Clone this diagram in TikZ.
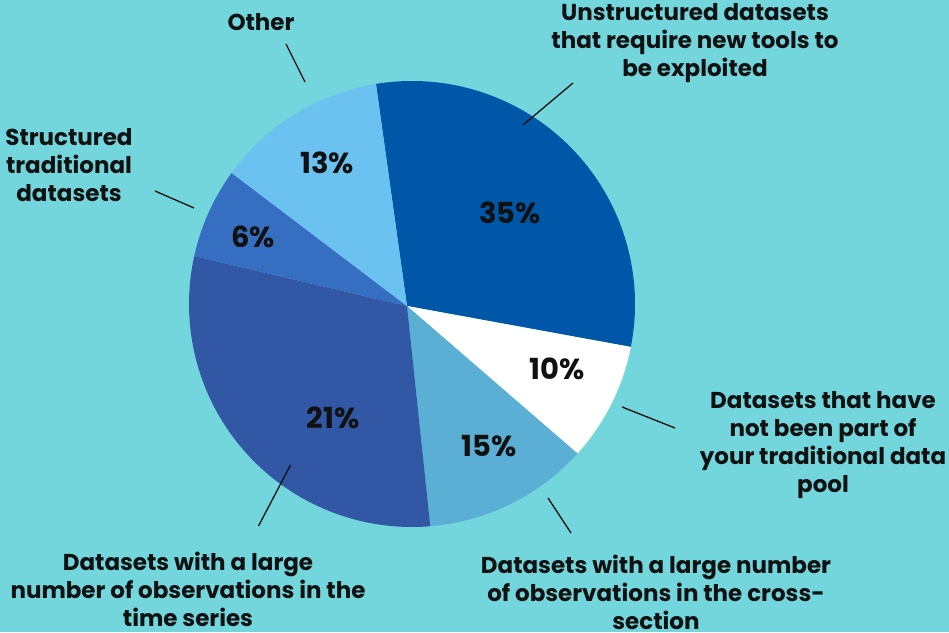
\documentclass[tikz,border=0pt]{standalone}
\usepackage{fontspec}
\setmainfont{Poppins}
\usetikzlibrary{calc}
\definecolor{bg}{RGB}{114,214,220}
\definecolor{cA}{RGB}{0,87,168}
\definecolor{cB}{RGB}{255,255,255}
\definecolor{cC}{RGB}{91,175,212}
\definecolor{cD}{RGB}{50,87,164}
\definecolor{cE}{RGB}{54,111,193}
\definecolor{cF}{RGB}{107,194,240}
\definecolor{ink}{RGB}{17,17,17}
\tikzset{
  lbl/.style={anchor=base, align=center, inner sep=0pt, text=ink,
    font=\fontsize{23}{28}\selectfont\bfseries},
  pct/.style={anchor=center, inner sep=0pt, text=ink,
    font=\fontsize{29}{34}\selectfont\bfseries},
  leader/.style={draw=ink, line width=1.3pt},
}
\begin{document}
\begin{tikzpicture}[x=1pt,y=1pt]
\useasboundingbox (0,0) rectangle (949,632);
\fill[bg] (0,0) rectangle (949,632);
\coordinate (O) at (412,328);
\coordinate (P) at (407,326);
\def\R{223pt}
\fill[cA] (P) -- ($(O)+(99.3:\R)$) arc[start angle=99.3, end angle=-11.1, radius=\R] -- cycle;
\fill[cB] (P) -- ($(O)+(-11.1:\R)$) arc[start angle=-11.1, end angle=-42.1, radius=\R] -- cycle;
\fill[cC] (P) -- ($(O)+(-42.1:\R)$) arc[start angle=-42.1, end angle=-85.3, radius=\R] -- cycle;
\fill[cD] (P) -- ($(O)+(-85.3:\R)$) arc[start angle=-85.3, end angle=-192.4, radius=\R] -- cycle;
\fill[cE] (P) -- ($(O)+(167.6:\R)$) arc[start angle=167.6, end angle=144.0, radius=\R] -- cycle;
\fill[cF] (P) -- ($(O)+(144.0:\R)$) arc[start angle=144.0, end angle=99.3, radius=\R] -- cycle;

% percentages
\node[pct] (p35) at (510,419) {35\%};
\node[pct] (p10) at (557,263) {10\%};
\node[pct] (p15) at (489,186) {15\%};
\node[pct] (p21) at (333,214) {21\%};
\node[pct] (p6)  at (253,395) {6\%};
\node[pct] (p13) at (327,469) {13\%};

% labels (anchor=base sits on the last line)
\node[lbl] (lunstr) at (695,555) {Unstructured datasets\\that require new tools to\\be exploited};
\node[lbl] (lother) at (261,601.5) {Other};
\node[lbl] (lstruct) at (69,430) {Structured\\traditional\\datasets};
\node[lbl] (lnew) at (823,140) {Datasets that have\\not been part of\\your traditional data\\pool};
\node[lbl] (ltime) at (188,6) {Datasets with a large\\number of observations in the\\time series};
\node[lbl] (lcross) at (656,3) {Datasets with a large number\\of observations in the cross-\\section};

% leader lines
\coordinate (u1) at (573,549); \coordinate (u2) at (523,507);
\coordinate (o1) at (286,588); \coordinate (o2) at (305,550);
\coordinate (s1) at (155,441); \coordinate (s2) at (194,424);
\coordinate (n1) at (622,225); \coordinate (n2) at (675,204);
\coordinate (t1) at (290.5,167); \coordinate (t2) at (258.5,106);
\coordinate (c1) at (548,134); \coordinate (c2) at (571,99);
\draw[leader] (u1) -- (u2);
\draw[leader] (o1) -- (o2);
\draw[leader] (s1) -- (s2);
\draw[leader] (n1) -- (n2);
\draw[leader] (t1) -- (t2);
\draw[leader] (c1) -- (c2);
\end{tikzpicture}
\end{document}
